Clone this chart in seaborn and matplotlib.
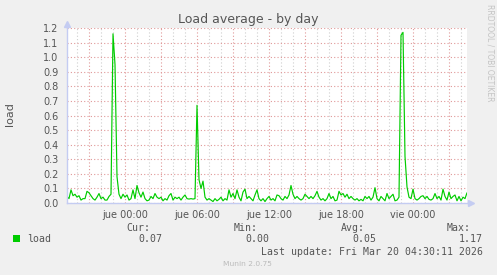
import numpy as np
import pandas as pd
import matplotlib
matplotlib.use("Agg")
import matplotlib.pyplot as plt
import seaborn as sns
from matplotlib.patches import Rectangle
from matplotlib.ticker import MultipleLocator, FixedLocator

# ---- data (10-minute samples starting Wed 19:10, hours relative to Thu 00:00) ----
load = [
    0.045, 0.03, 0.09, 0.05, 0.06, 0.04, 0.05, 0.02, 0.03, 0.03,
    0.08, 0.07, 0.05, 0.03, 0.02, 0.04, 0.065, 0.03, 0.04, 0.02,
    0.02, 0.045, 0.06, 1.16, 0.95, 0.18, 0.06, 0.03, 0.06, 0.04,
    0.055, 0.02, 0.03, 0.09, 0.03, 0.12, 0.07, 0.04, 0.075, 0.03,
    0.015, 0.02, 0.045, 0.03, 0.065, 0.04, 0.03, 0.04, 0.015, 0.03,
    0.02, 0.05, 0.065, 0.02, 0.04, 0.03, 0.04, 0.02, 0.04, 0.055,
    0.03, 0.027, 0.03, 0.027, 0.03, 0.67, 0.16, 0.10, 0.15, 0.04,
    0.02, 0.03, 0.02, 0.01, 0.03, 0.015, 0.025, 0.04, 0.015, 0.03,
    0.02, 0.09, 0.04, 0.065, 0.03, 0.09, 0.04, 0.015, 0.075, 0.095,
    0.03, 0.045, 0.03, 0.015, 0.055, 0.09, 0.03, 0.015, 0.03, 0.01,
    0.03, 0.045, 0.02, 0.03, 0.015, 0.055, 0.05, 0.03, 0.02, 0.045,
    0.03, 0.055, 0.12, 0.06, 0.03, 0.045, 0.03, 0.02, 0.03, 0.06,
    0.045, 0.03, 0.045, 0.03, 0.05, 0.08, 0.04, 0.02, 0.03, 0.015,
    0.03, 0.065, 0.03, 0.045, 0.015, 0.02, 0.08, 0.055, 0.065, 0.04,
    0.06, 0.03, 0.045, 0.03, 0.02, 0.03, 0.015, 0.025, 0.015, 0.045,
    0.03, 0.045, 0.02, 0.04, 0.105, 0.03, 0.015, 0.045, 0.03, 0.015,
    0.065, 0.03, 0.045, 0.06, 0.015, 0.02, 0.04, 1.15, 1.17, 0.32,
    0.11, 0.04, 0.03, 0.095, 0.03, 0.02, 0.03, 0.045, 0.05, 0.03,
    0.045, 0.025, 0.02, 0.03, 0.065, 0.03, 0.045, 0.02, 0.095, 0.045,
    0.02, 0.075, 0.03, 0.045, 0.055, 0.015, 0.045, 0.015, 0.04, 0.03,
    0.07,
]
start_hour = -(4 + 50 / 60)      # Wed 19:10
step_minutes = 10
span_hours = 400 / 12            # 33h20m window

tick_hours = [0, 6, 12, 18, 24]
tick_labels = ["jue 00:00", "jue 06:00", "jue 12:00", "jue 18:00", "vie 00:00"]
y_ticks = [0.0, 0.1, 0.2, 0.3, 0.4, 0.5, 0.6, 0.7, 0.8, 0.9, 1.0, 1.1, 1.2]

stat_names = ["Cur:", "Min:", "Avg:", "Max:"]
stat_values = ["0.07", "0.00", "0.05", "1.17"]
series_name = "load"
title = "Load average - by day"
last_update = "Last update: Fri Mar 20 04:30:11 2026"
footer = "Munin 2.0.75"
side_text = "RRDTOOL / TOBI OETIKER"

# ---- styling ----
sns.set_style("white")
plt.rcParams["font.family"] = ["DejaVu Sans"]

W, H = 497, 275
BG = "#F0F0F0"
TXT = "#555555"
MGRID = "#E09898"
GRID = "#CFCFCF"
AXIS = "#C4CCF2"
GREEN = "#00CC00"

fig = plt.figure(figsize=(W / 100, H / 100), dpi=100, facecolor=BG)
ax = fig.add_axes([67 / W, 72 / H, 400 / W, 175 / H])
ax.set_facecolor("white")

df = pd.DataFrame({
    "hour": start_hour + np.arange(len(load)) * step_minutes / 60,
    "load": load,
})
sns.lineplot(data=df, x="hour", y="load", ax=ax, color=GREEN, linewidth=0.85)

ax.set_xlim(start_hour, start_hour + span_hours)
ax.set_ylim(0, 1.2)
ax.set_xlabel("")
ax.set_ylabel("")

# y axis
ax.yaxis.set_major_locator(FixedLocator(y_ticks))
ax.set_yticklabels([f"{v:.1f}" for v in y_ticks])
ax.tick_params(axis="y", which="major", length=3, width=0.8, color=MGRID,
               labelsize=7, labelcolor=TXT, pad=3)

# x axis: major grid every 3h, labels every 6h, minor every 1h
major_x = list(range(-3, 28, 3))
ax.xaxis.set_major_locator(FixedLocator(major_x))
ax.set_xticklabels([tick_labels[tick_hours.index(h)] if h in tick_hours else "" for h in major_x])
ax.xaxis.set_minor_locator(MultipleLocator(1))
ax.tick_params(axis="x", which="major", length=3, width=0.8, color=MGRID,
               labelsize=7, labelcolor=TXT, pad=2)
ax.tick_params(axis="x", which="minor", length=2, width=0.8, color=GRID)

dot = (0, (1, 2))
ax.grid(False)
ax.xaxis.grid(True, which="minor", color=GRID, linestyle=dot, linewidth=0.8)
ax.xaxis.grid(True, which="major", color=MGRID, linestyle=dot, linewidth=0.8)
ax.yaxis.grid(True, which="major", color=MGRID, linestyle=dot, linewidth=0.8)
ax.set_axisbelow(True)

for s in ["top", "right"]:
    ax.spines[s].set_visible(False)
for s in ["left", "bottom"]:
    ax.spines[s].set_color(AXIS)
    ax.spines[s].set_linewidth(1.0)

# axis arrows
ax.plot([0, 0], [1.0, 1.02], transform=ax.transAxes, color=AXIS, lw=1, clip_on=False)
ax.plot([0], [1 + 4 / 175], marker="^", markersize=4, color=AXIS,
        transform=ax.transAxes, clip_on=False)
ax.plot([1.0, 1.008], [0, 0], transform=ax.transAxes, color=AXIS, lw=1, clip_on=False)
ax.plot([1 + 4 / 400], [0], marker=">", markersize=4, color=AXIS,
        transform=ax.transAxes, clip_on=False)

def fx(px):
    return px / W

def fy(py):
    return 1 - py / H

fig.text(fx(248), fy(19), title, ha="center", va="center", fontsize=9, color=TXT)
fig.text(fx(10), fy(114.5), "load", ha="center", va="center", rotation=90,
         fontsize=8, color=TXT)
fig.text(fx(490), fy(53), side_text, ha="center", va="center", rotation=270,
         fontsize=5.5, color="#C4C4C4")

mono = "DejaVu Sans Mono"
fig.patches.append(Rectangle((fx(13), fy(242)), 7 / W, 7 / H, transform=fig.transFigure,
                             facecolor=GREEN, edgecolor="none"))
fig.text(fx(27), fy(239.5), series_name, ha="left", va="center", family=mono,
         fontsize=7.1, color=TXT)

name_x = [126.7, 233.3, 340.7, 446.7]
val_right = [162.3, 269.0, 376.0, 482.7]
for nm, val, nx, vx in zip(stat_names, stat_values, name_x, val_right):
    fig.text(fx(nx), fy(227.7), nm, ha="left", va="center", family=mono,
             fontsize=7.1, color=TXT)
    fig.text(fx(vx), fy(239.3), val, ha="right", va="center", family=mono,
             fontsize=7.1, color=TXT)

fig.text(fx(482.7), fy(251.7), last_update, ha="right", va="center", family=mono,
         fontsize=7.1, color=TXT)
fig.text(fx(247.8), fy(264), footer, ha="center", va="center", fontsize=5.4,
         color="#BBBBBB")

fig.savefig("out.png", dpi=100, facecolor=BG)
